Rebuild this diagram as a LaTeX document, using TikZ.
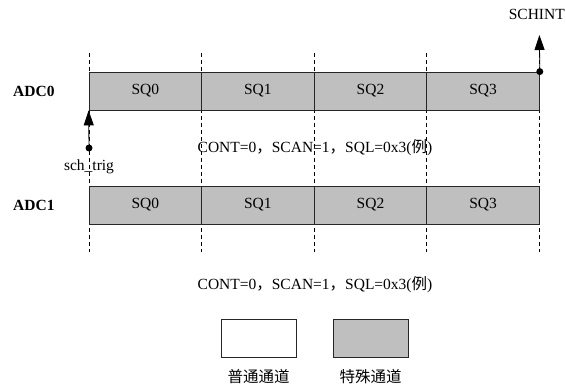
\documentclass[tikz,border=0pt]{standalone}
\usepackage{fontspec}
\setmainfont{Liberation Serif}
\newfontfamily\cjk{Noto Sans CJK SC}
\usetikzlibrary{arrows.meta}
\begin{document}
\begin{tikzpicture}[x=1pt,y=-1pt,
  every node/.style={font=\fontsize{15.5}{18}\selectfont, inner sep=0pt},
  seg/.style={draw=black!85, fill=gray!50, minimum width=112.6pt, minimum height=38pt, line width=0.8pt},
  guide/.style={dash pattern=on 4pt off 3pt, line width=0.7pt},
  dotnode/.style={circle, fill=black, minimum size=7pt},
  trigarrow/.style={line width=0.8pt, -{Triangle[width=10pt,length=15pt]}},
  legbox/.style={draw=black!85, line width=0.8pt, minimum width=75pt, minimum height=38pt},
  lbl/.style={font=\fontsize{15.5}{18}\selectfont\bfseries}
]
\useasboundingbox (0,0) rectangle (566,385);
% guides
\foreach \i/\x in {0/89,1/201.6,2/314.2,3/426.8,4/539.4}{
  \coordinate (gt\i) at (\x,53);
  \coordinate (gb\i) at (\x,252);
  \draw[guide] (gt\i) -- (gb\i);
}
% ADC0 row
\node[seg] (a0) at (145.3,91) {SQ0};
\node[seg] (a1) at (257.9,91) {SQ1};
\node[seg] (a2) at (370.5,91) {SQ2};
\node[seg] (a3) at (483.1,91) {SQ3};
% ADC1 row
\node[seg] (b0) at (145.3,205) {SQ0};
\node[seg] (b1) at (257.9,205) {SQ1};
\node[seg] (b2) at (370.5,205) {SQ2};
\node[seg] (b3) at (483.1,205) {SQ3};
% labels
\node[lbl, anchor=west] (l0) at (13,91) {ADC0};
\node[lbl, anchor=west] (l1) at (13,205) {ADC1};
% trigger
\node[dotnode] (trig) at (89,148) {};
\draw[trigarrow] (trig) -- (a0.south west);
\node (trigtxt) at (89,167) {sch\_trig};
% interrupt
\node[dotnode] (intdot) at (a3.north east) {};
\coordinate (inttop) at (539.4,35);
\draw[trigarrow] (intdot) -- (inttop);
\node[anchor=east] (inttxt) at (565,14) {SCHINT};
% notes
\node (n0) at (315,148) {CONT=0{\cjk ，}SCAN=1{\cjk ，}SQL=0x3({\cjk 例})};
\node (n1) at (315,285) {CONT=0{\cjk ，}SCAN=1{\cjk ，}SQL=0x3({\cjk 例})};
% legend
\node[legbox, fill=white] (lw) at (258.5,338) {};
\node[legbox, fill=gray!50] (lg) at (370.5,338) {};
\node (lwt) at (258.5,377) {\cjk 普通通道};
\node (lgt) at (370.5,377) {\cjk 特殊通道};
\end{tikzpicture}
\end{document}
